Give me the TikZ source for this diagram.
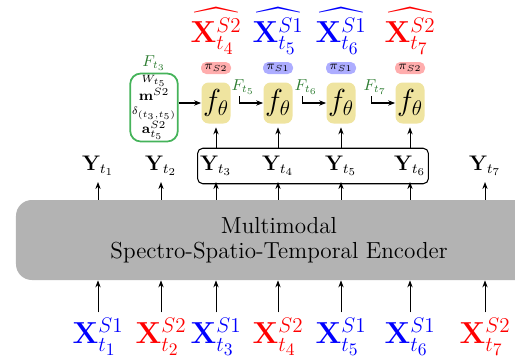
\documentclass[tikz,border=0pt]{standalone}
\usepackage{amsmath,amssymb}
\usepackage{tikz}
\usetikzlibrary{arrows.meta,positioning,calc,fit}
\definecolor{encgray}{HTML}{B3B3B3}
\definecolor{fyellow}{HTML}{EFE4A0}
\definecolor{featgreen}{HTML}{45B35A}
\definecolor{lblgreen}{HTML}{2E7D32}
\tikzset{
  encblk/.style ={rectangle, rounded corners=9pt, fill=encgray, align=center,
                  font=\fontsize{13.2}{14}\selectfont, inner sep=0pt},
  xin/.style    ={font=\LARGE},
  yout/.style   ={font=\large},
  ygroup/.style ={rectangle, rounded corners=3pt, draw=black, line width=0.6pt,
                  inner xsep=-2pt, inner ysep=1pt},
  fblk/.style   ={rectangle, rounded corners=4pt, fill=fyellow, font=\LARGE,
                  minimum width=0.58cm, minimum height=0.82cm, inner sep=0pt},
  pitag/.style  ={rectangle, rounded corners=3pt, font=\scriptsize,
                  minimum width=0.6cm, minimum height=0.24cm, inner sep=0pt},
  xhat/.style   ={font=\LARGE},
  featblk/.style={rectangle, rounded corners=6pt, draw=featgreen, line width=1pt,
                  minimum width=0.68cm, minimum height=1.18cm, align=center,
                  inner sep=1pt, font=\fontsize{8}{7.6}\selectfont},
  flbl/.style   ={text=lblgreen, font=\small, inner sep=1pt},
  ar/.style     ={-{Stealth[length=4pt,width=3pt]}, line width=0.5pt},
  elb/.style    ={-{Stealth[length=4pt,width=3pt]}, line width=0.6pt}
}

\begin{document}
\begin{tikzpicture}
\useasboundingbox (0,0) rectangle (10.3,7.26);
\clip (0,0) rectangle (10.3,7.26);
\node[encblk, minimum width=10.52cm, minimum height=1.6cm] (enc) at (5.58,2.46)
  {Multimodal\\Spectro-Spatio-Temporal Encoder};
% inputs and encoder outputs
\foreach \i/\xc/\c/\s in {1/1.96/blue/S1, 2/3.22/red/S2, 3/4.32/blue/S1,
                          4/5.56/red/S2, 5/6.82/blue/S1, 6/8.20/blue/S1, 7/9.70/red/S2}{
  \node[xin, text=\c] (x\i) at (\xc,0.52) {$\mathbf{X}^{\s}_{t_\i}$};
  \node[yout] (y\i) at (\xc,3.94) {$\mathbf{Y}_{t_\i}$};
  \draw[ar] (x\i.north) -- (x\i.north |- enc.south);
  \draw[ar] (y\i.south |- enc.north) -- (y\i.south);
}
\node[ygroup, fit=(y3)(y6)] (ybox) {};
% decoders
\foreach \i/\c/\s in {3/red/S2, 4/blue/S1, 5/blue/S1, 6/red/S2}{
  \pgfmathtruncatemacro\h{\i+1}
  \node[fblk] (f\i) at (y\i |- 0,5.2) {$f_\theta$};
  \node[pitag, fill=\c!32] (p\i) at (y\i |- 0,5.9) {$\pi_{\s}$};
  \node[xhat, text=\c] (h\i) at (y\i |- 0,6.64) {$\widehat{\mathbf{X}^{\s}_{t_\h}}$};
  \draw[ar, shorten >=2pt] (y\i |- ybox.north) -- (f\i);
}
\node[featblk] (feat) at (3.08,5.11)
  {$\scriptstyle W_{t_5}$\\$\mathbf{m}^{S2}$\\$\scriptstyle\delta_{(t_3,t_5)}$\\$\mathbf{a}^{S2}_{t_5}$};
\node[flbl, above=0pt of feat] (F3) {$F_{t_3}$};
\draw[elb] (feat.east |- f3.west) -- (f3.west);
\foreach \i in {4,5,6}{
  \pgfmathtruncatemacro\h{\i+1}
  \node[flbl] (F\h) at ($(f\i.west)+(-0.4,0.32)$) {$F_{t_\h}$};
  \draw[elb] ([xshift=-2pt]F\h.south) |- (f\i.west);
}
\end{tikzpicture}
\end{document}
